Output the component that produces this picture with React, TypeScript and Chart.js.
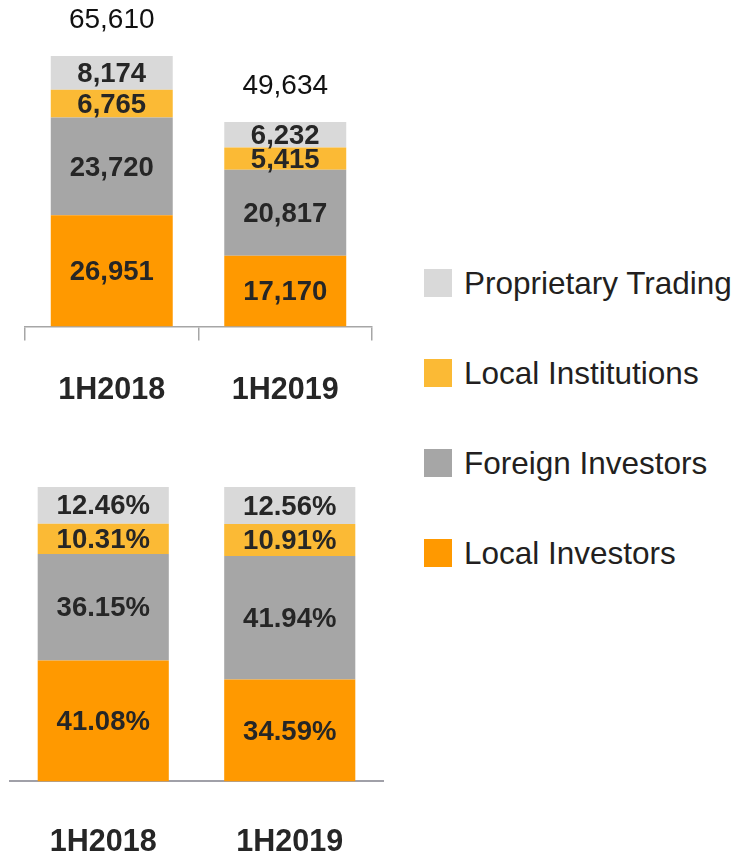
import React, { useEffect, useRef } from 'react';
import { Chart, registerables } from 'chart.js';

Chart.register(...registerables);

const categories = ['1H2018', '1H2019'];
const seriesNames = ['Local Investors', 'Foreign Investors', 'Local Institutions', 'Proprietary Trading'];
const seriesColors = ['#FF9900', '#A6A6A6', '#FBBA35', '#D9D9D9'];

const localInvestors = [26951, 17170];
const foreignInvestors = [23720, 20817];
const localInstitutions = [6765, 5415];
const proprietaryTrading = [8174, 6232];

const localInvestorsPct = [41.08, 34.59];
const foreignInvestorsPct = [36.15, 41.94];
const localInstitutionsPct = [10.31, 10.91];
const proprietaryTradingPct = [12.46, 12.56];

const valueAxisMax = 78000;
const pctAxisMax = 100;

const FONT = '"Liberation Sans", Arial, Helvetica, sans-serif';

function fmtThousands(n: number): string {
  return String(n).replace(/\B(?=(\d{3})+(?!\d))/g, ',');
}
function fmtPct(n: number): string {
  return n.toFixed(2) + '%';
}

function makeLabelPlugin(fmt: (n: number) => string, showTotals: boolean) {
  return {
    id: 'segLabels',
    afterDatasetsDraw(chart: any) {
      const ctx = chart.ctx;
      ctx.save();
      ctx.textAlign = 'center';
      ctx.textBaseline = 'middle';
      chart.data.datasets.forEach((ds: any, di: number) => {
        const meta = chart.getDatasetMeta(di);
        meta.data.forEach((bar: any, i: number) => {
          const { x, y, base } = bar.getProps(['x', 'y', 'base'], true);
          ctx.font = `bold 27.5px ${FONT}`;
          ctx.fillStyle = '#262626';
          ctx.fillText(fmt(ds.data[i]), x, (y + base) / 2 + 1.5);
        });
      });
      if (showTotals) {
        const last = chart.getDatasetMeta(chart.data.datasets.length - 1);
        last.data.forEach((bar: any, i: number) => {
          const total = chart.data.datasets.reduce((s: number, d: any) => s + d.data[i], 0);
          ctx.font = `28px ${FONT}`;
          ctx.fillStyle = '#111111';
          ctx.fillText(fmtThousands(total), bar.x, bar.y - 36);
        });
      }
      ctx.restore();
    },
  };
}

function buildDatasets(series: number[][]) {
  return series.map((data, i) => ({
    label: seriesNames[i],
    data,
    backgroundColor: seriesColors[i],
    borderWidth: 0,
    barPercentage: 0.703,
    categoryPercentage: 1.0,
  }));
}

export default function App() {
  const topRef = useRef<HTMLCanvasElement | null>(null);
  const botRef = useRef<HTMLCanvasElement | null>(null);

  useEffect(() => {
    const top = new Chart(topRef.current as HTMLCanvasElement, {
      type: 'bar',
      data: {
        labels: categories,
        datasets: buildDatasets([localInvestors, foreignInvestors, localInstitutions, proprietaryTrading]) as any,
      },
      options: {
        responsive: false,
        animation: false,
        devicePixelRatio: 1,
        layout: { padding: { left: 25, right: 28, top: 5, bottom: 0 } },
        plugins: { legend: { display: false }, tooltip: { enabled: false } },
        scales: {
          x: {
            stacked: true,
            offset: true,
            grid: {
              display: true,
              offset: true,
              drawOnChartArea: false,
              drawTicks: true,
              tickLength: 14,
              color: '#A6A6A6',
              lineWidth: 1.5,
            },
            border: { display: true, color: '#A6A6A6', width: 1.5 },
            ticks: {
              padding: 32,
              color: '#262626',
              font: { family: FONT, size: 30.5, weight: 'bold', lineHeight: 1.2 },
            },
          },
          y: { stacked: true, display: false, min: 0, max: valueAxisMax },
        },
      } as any,
      plugins: [makeLabelPlugin(fmtThousands, true)],
    });

    const bot = new Chart(botRef.current as HTMLCanvasElement, {
      type: 'bar',
      data: {
        labels: categories,
        datasets: buildDatasets([localInvestorsPct, foreignInvestorsPct, localInstitutionsPct, proprietaryTradingPct]) as any,
      },
      options: {
        responsive: false,
        animation: false,
        devicePixelRatio: 1,
        layout: { padding: { left: 10, right: 17, top: 27, bottom: 0 } },
        plugins: { legend: { display: false }, tooltip: { enabled: false } },
        scales: {
          x: {
            stacked: true,
            offset: true,
            grid: { display: false, drawTicks: false, tickLength: 0 },
            border: { display: true, color: '#A0A0A8', width: 2 },
            ticks: {
              padding: 43,
              color: '#262626',
              font: { family: FONT, size: 30.5, weight: 'bold', lineHeight: 1.2 },
            },
          },
          y: { stacked: true, display: false, min: 0, max: pctAxisMax },
        },
      } as any,
      plugins: [makeLabelPlugin(fmtPct, false)],
    });

    return () => {
      top.destroy();
      bot.destroy();
    };
  }, []);

  const legendOrder = [3, 2, 1, 0];

  return (
    <div
      style={{
        position: 'absolute',
        left: 0,
        top: 0,
        width: 735,
        height: 853,
        overflow: 'hidden',
        background: '#ffffff',
        fontFamily: FONT,
      }}
    >
      <canvas ref={topRef} width={400} height={441} style={{ position: 'absolute', left: 0, top: 0 }} />
      <canvas ref={botRef} width={400} height={444} style={{ position: 'absolute', left: 0, top: 460 }} />
      <div style={{ position: 'absolute', left: 424, top: 265 }}>
        {legendOrder.map((si, k) => (
          <div
            key={si}
            style={{
              position: 'absolute',
              left: 0,
              top: k * 90,
              height: 36,
              display: 'flex',
              alignItems: 'center',
              whiteSpace: 'nowrap',
            }}
          >
            <div style={{ width: 28, height: 28, background: seriesColors[si] }} />
            <span style={{ marginLeft: 12, fontSize: 31.5, color: '#231F20', lineHeight: '36px' }}>
              {seriesNames[si]}
            </span>
          </div>
        ))}
      </div>
    </div>
  );
}
